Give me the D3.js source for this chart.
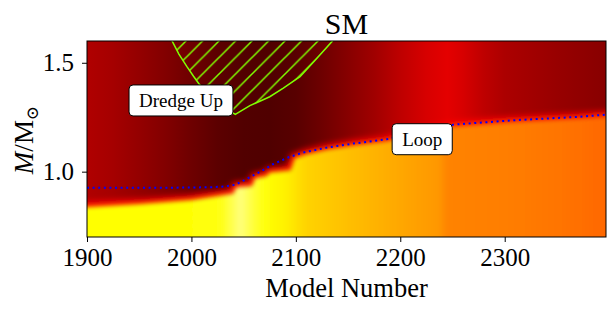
<!DOCTYPE html>
<html>
<head>
<meta charset="utf-8">
<script src="https://cdn.jsdelivr.net/npm/d3@7"></script>
<style>
body { margin: 0; background: #fff; }
svg text { font-family: "Liberation Serif", "DejaVu Serif", serif; fill: #000; }
</style>
</head>
<body>
<div id="chart"></div>
<script>
// envelope (above the edge) colour values along the model axis
const envModels = [1900, 1925, 1950, 1975, 2000, 2025, 2050, 2075, 2100, 2125, 2150, 2175, 2200, 2225, 2245, 2260, 2280, 2300, 2350, 2397];
const envValues = [0.252, 0.236, 0.212, 0.186, 0.157, 0.132, 0.117, 0.114, 0.126, 0.157, 0.193, 0.229, 0.272, 0.308, 0.326, 0.308, 0.272, 0.246, 0.218, 0.195];

// core (below the edge) colour values
const coreModels = [1900, 2000, 2028, 2040, 2047, 2056, 2070, 2090, 2110, 2150, 2200, 2237, 2245, 2300, 2350, 2397];
const coreValues = [0.752, 0.752, 0.765, 0.83, 0.87, 0.82, 0.755, 0.725, 0.68, 0.65, 0.615, 0.59, 0.56, 0.553, 0.54, 0.52];

// edge between envelope and core
const edgeModels = [1880, 1900, 1950, 2000, 2025, 2040, 2043, 2058, 2061, 2072, 2075, 2095, 2099, 2110, 2130, 2155, 2187, 2251, 2308, 2372, 2420];
const edgeMasses = [0.833, 0.838, 0.851, 0.870, 0.888, 0.900, 0.928, 0.934, 0.970, 0.980, 0.996, 1.006, 1.062, 1.080, 1.102, 1.121, 1.141, 1.208, 1.229, 1.245, 1.261];

// dotted blue line
const loopModels = [1900, 1950, 2000, 2020, 2032, 2042, 2051, 2058, 2066, 2078, 2093, 2107, 2130, 2155, 2187, 2251, 2308, 2372, 2397];
const loopMasses = [0.926, 0.926, 0.927, 0.929, 0.932, 0.940, 0.962, 0.980, 1.000, 1.034, 1.066, 1.088, 1.111, 1.129, 1.149, 1.216, 1.236, 1.252, 1.262];

// hatched dredge-up region outline
const dredgeModels = [1977, 1981.5, 1988, 1995.7, 2002, 2007, 2015, 2025, 2042, 2056, 2075, 2088, 2104, 2120, 2135, 2139];
const dredgeMasses = [1.65, 1.60, 1.54, 1.482, 1.438, 1.405, 1.36, 1.315, 1.263, 1.303, 1.344, 1.384, 1.436, 1.52, 1.60, 1.65];

const xTicks = [1900, 2000, 2100, 2200, 2300];
const yTicks = [1.0, 1.5];

const notes = ['Dredge Up', 'Loop'];
const noteModels = [1990, 2221];
const noteMasses = [1.327, 1.149];

const FONT = '"Liberation Serif", "DejaVu Serif", serif';
const W = 615, H = 310;
const margin = {top: 41, right: 9, bottom: 73, left: 87};
const width = W - margin.left - margin.right;
const height = H - margin.top - margin.bottom;

const x = d3.scaleLinear().domain([1900, 2397]).range([0, width]);
const y = d3.scaleLinear().domain([0.7, 1.6]).range([height, 0]);
const hot = d3.scaleLinear()
	.domain([0, 0.365, 0.746, 1])
	.range(['#000000', '#ff0000', '#ffff00', '#ffffff'])
	.clamp(true);

const svg = d3.select('#chart')
	.append('svg')
	.attr('width', W)
	.attr('height', H)
	.attr('font-family', FONT);

const defs = svg.append('defs');

function hGradient(id, models, values) {
	const lo = models[0], hi = models[models.length - 1];
	defs.append('linearGradient')
		.attr('id', id)
		.attr('gradientUnits', 'userSpaceOnUse')
		.attr('x1', x(lo)).attr('x2', x(hi))
		.attr('y1', 0).attr('y2', 0)
		.selectAll('stop')
		.data(models)
		.join('stop')
		.attr('offset', (d) => (d - lo) / (hi - lo))
		.attr('stop-color', (d, i) => hot(values[i]));
}
hGradient('env', envModels, envValues);
hGradient('core', coreModels, coreValues);

defs.append('clipPath').attr('id', 'plot')
	.append('rect').attr('width', width).attr('height', height);

function blur(id, sd) {
	defs.append('filter')
		.attr('id', id)
		.attr('filterUnits', 'userSpaceOnUse')
		.attr('x', -60).attr('y', -60)
		.attr('width', width + 120).attr('height', height + 120)
		.append('feGaussianBlur')
		.attr('stdDeviation', sd);
}
blur('soft', 2);
blur('wide', 3);

const hs = 16.5;
defs.append('pattern')
	.attr('id', 'hatch')
	.attr('patternUnits', 'userSpaceOnUse')
	.attr('width', hs).attr('height', hs)
	.append('path')
	.attr('d', `M0,${hs} l${hs},${-hs} M${-hs / 4},${hs / 4} l${hs / 2},${-hs / 2} M${3 * hs / 4},${5 * hs / 4} l${hs / 2},${-hs / 2}`)
	.attr('stroke', '#80ff00')
	.attr('stroke-width', 1.5);

const g = svg.append('g')
	.attr('transform', `translate(${margin.left},${margin.top})`);

const plot = g.append('g').attr('clip-path', 'url(#plot)');

plot.append('rect')
	.attr('width', width)
	.attr('height', height)
	.attr('fill', 'url(#env)');

const edge = edgeModels.map((m, i) => [m, edgeMasses[i]]);

plot.append('path')
	.datum(edge)
	.attr('d', d3.line().x((d) => x(d[0])).y((d) => y(d[1])))
	.attr('fill', 'none')
	.attr('stroke', '#ff0a00')
	.attr('stroke-width', 10)
	.attr('filter', 'url(#wide)');

plot.append('path')
	.datum(edge)
	.attr('d', d3.area().x((d) => x(d[0])).y0(height + 40).y1((d) => y(d[1])))
	.attr('fill', 'url(#core)')
	.attr('filter', 'url(#soft)');

plot.append('path')
	.datum(loopModels.map((m, i) => [m, loopMasses[i]]))
	.attr('d', d3.line().x((d) => x(d[0])).y((d) => y(d[1])))
	.attr('fill', 'none')
	.attr('stroke', '#0000ff')
	.attr('stroke-width', 2)
	.attr('stroke-dasharray', '2 3.6');

const dredge = dredgeModels.map((m, i) => [m, dredgeMasses[i]]);
plot.append('path')
	.datum(dredge)
	.attr('d', d3.line().x((d) => x(d[0])).y((d) => y(d[1])))
	.attr('fill', 'url(#hatch)')
	.attr('stroke', '#80ff00')
	.attr('stroke-width', 1.5);

// frame
g.append('rect')
	.attr('width', width)
	.attr('height', height)
	.attr('fill', 'none')
	.attr('stroke', '#000')
	.attr('stroke-width', 1);

g.append('g')
	.attr('transform', `translate(0,${height})`)
	.call(d3.axisBottom(x).tickValues(xTicks).tickSize(5).tickPadding(6).tickFormat(d3.format('d')))
	.attr('font-family', FONT)
	.call((a) => a.select('.domain').remove())
	.call((a) => a.selectAll('text').attr('font-size', 25).attr('font-family', FONT));

g.append('g')
	.call(d3.axisLeft(y).tickValues(yTicks).tickSize(5).tickPadding(8).tickFormat(d3.format('.1f')))
	.attr('font-family', FONT)
	.call((a) => a.select('.domain').remove())
	.call((a) => a.selectAll('text').attr('font-size', 25).attr('font-family', FONT));

g.append('text')
	.attr('x', width / 2)
	.attr('y', height + 60)
	.attr('text-anchor', 'middle')
	.attr('font-size', 26.5)
	.text('Model Number');

svg.append('text')
	.attr('x', margin.left + width / 2)
	.attr('y', 34)
	.attr('text-anchor', 'middle')
	.attr('font-size', 30)
	.text('SM');

const ylab = svg.append('text')
	.attr('transform', `translate(33,${margin.top + 99}) rotate(-90)`)
	.attr('text-anchor', 'middle')
	.attr('font-size', 27);
ylab.append('tspan').attr('font-style', 'italic').text('M');
ylab.append('tspan').text('/M');
ylab.append('tspan').attr('font-size', 17).attr('dy', 5).text('⊙');

notes.forEach((t, i) => {
	const n = g.append('g')
		.attr('transform', `translate(${x(noteModels[i])},${y(noteMasses[i])})`);
	const box = n.append('rect');
	const txt = n.append('text')
		.attr('text-anchor', 'middle')
		.attr('dy', '0.35em')
		.attr('font-size', 19)
		.attr('font-family', FONT)
		.text(t);
	const bb = txt.node().getBBox();
	box.attr('x', bb.x - 10)
		.attr('y', -15.5)
		.attr('width', bb.width + 20)
		.attr('height', 31)
		.attr('rx', 4)
		.attr('fill', '#fff')
		.attr('stroke', '#000')
		.attr('stroke-width', 1);
});
</script>
</body>
</html>
